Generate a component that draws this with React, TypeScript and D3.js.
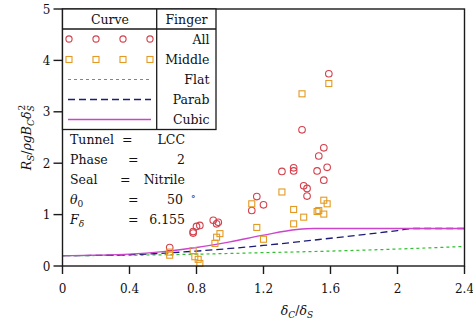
import React from "react";
import * as d3 from "d3";

const allX = [0.64, 0.78, 0.80, 0.82, 0.78, 0.90, 0.93, 0.92, 1.16, 1.20, 1.13, 1.31, 1.38, 1.38, 1.43, 1.59, 1.56, 1.53, 1.52, 1.58, 1.56, 1.44, 1.46, 1.46];
const allY = [0.36, 0.67, 0.77, 0.79, 0.64, 0.89, 0.85, 0.82, 1.35, 1.19, 1.08, 1.84, 1.91, 1.85, 2.65, 3.74, 2.30, 2.14, 1.85, 1.92, 1.67, 1.56, 1.51, 1.36];

const midX = [0.64, 0.64, 0.78, 0.79, 0.81, 0.82, 0.91, 0.92, 0.94, 1.13, 1.16, 1.20, 1.31, 1.38, 1.44, 1.38, 1.52, 1.53, 1.56, 1.58, 1.56, 1.43, 1.59];
const midY = [0.27, 0.21, 0.30, 0.18, 0.13, 0.05, 0.44, 0.56, 0.63, 1.21, 0.75, 0.52, 1.44, 1.10, 0.95, 0.82, 1.06, 1.08, 1.28, 1.21, 1.01, 3.35, 3.55];

const flatX = [0, 0.4, 0.8, 1.2, 1.6, 2.0, 2.4];
const flatY = [0.20, 0.21, 0.23, 0.26, 0.29, 0.33, 0.38];

const parabX = [0, 0.4, 0.8, 1.2, 1.6, 2.0, 2.1, 2.4];
const parabY = [0.20, 0.22, 0.29, 0.40, 0.54, 0.69, 0.73, 0.73];

const cubicX = [0, 0.2, 0.4, 0.6, 0.8, 1.0, 1.2, 1.4, 1.5, 2.4];
const cubicY = [0.20, 0.21, 0.23, 0.28, 0.36, 0.47, 0.60, 0.71, 0.73, 0.73];

const xTicks = [0, 0.4, 0.8, 1.2, 1.6, 2, 2.4];
const yTicks = [0, 1, 2, 3, 4, 5];

const W = 473, H = 324;
const FONT = "DejaVu Serif";
const CIRC = "#d4404c";
const SQ = "#e39a22";
const GREEN = "#2fbf2f";
const NAVY = "#1c1c78";
const MAG = "#cc44cc";
const AX = "#1a1a1a";
const TXT = "#111";

export default function App() {
  const x = d3.scaleLinear().domain([0, 2.4]).range([62.5, 464.5]);
  const y = d3.scaleLinear().domain([0, 5]).range([266, 9]);
  const mk = (xs: number[], ys: number[]) =>
    d3.line<number>().x((d) => x(xs[d])).y((d) => y(ys[d])).curve(d3.curveMonotoneX)(xs.map((_, i) => i)) || "";

  const legRows = [43.5, 64, 84, 104, 124];
  const legMarkX = [69, 96, 123, 150];

  return (
    <svg width={W} height={H} style={{ position: "absolute", left: 0, top: 0, background: "#fff" }} fontFamily={FONT}>
      {/* curves */}
      <path d={mk(flatX, flatY)} fill="none" stroke={GREEN} strokeWidth={1.2} strokeDasharray="3,3" />
      <path d={mk(parabX, parabY)} fill="none" stroke={NAVY} strokeWidth={1.3} strokeDasharray="7,4" />
      <path d={mk(cubicX, cubicY)} fill="none" stroke={MAG} strokeWidth={1.3} />

      {/* data */}
      {allX.map((v, i) => (
        <circle key={"c" + i} cx={x(v)} cy={y(allY[i])} r={3.3} fill="none" stroke={CIRC} strokeWidth={1.1} />
      ))}
      {midX.map((v, i) => (
        <rect key={"s" + i} x={x(v) - 3} y={y(midY[i]) - 3} width={6} height={6} fill="none" stroke={SQ} strokeWidth={1.1} />
      ))}

      {/* frame */}
      <rect x={62.5} y={9} width={402} height={257} fill="none" stroke={AX} strokeWidth={1.4} />

      {/* x ticks */}
      {xTicks.map((t) => (
        <g key={"xt" + t}>
          <line x1={x(t)} x2={x(t)} y1={266} y2={274} stroke={AX} strokeWidth={1.4} />
          <text x={x(t)} y={293} fontSize={12} textAnchor="middle" fill={TXT}>{String(t)}</text>
        </g>
      ))}
      {/* y ticks */}
      {yTicks.map((t) => (
        <g key={"yt" + t}>
          <line x1={53.5} x2={62.5} y1={y(t)} y2={y(t)} stroke={AX} strokeWidth={1.4} />
          <text x={50.5} y={y(t) + 4.5} fontSize={12} textAnchor="end" fill={TXT}>{String(t)}</text>
        </g>
      ))}

      {/* axis titles */}
      <text x={297} y={315} fontSize={12.5} textAnchor="middle" fill={TXT}>
        <tspan fontStyle="italic">δ</tspan><tspan fontSize={9} dy={3} fontStyle="italic">C</tspan>
        <tspan dy={-3}>/</tspan><tspan fontStyle="italic">δ</tspan><tspan fontSize={9} dy={3} fontStyle="italic">S</tspan>
      </text>
      <text transform="translate(31,137.5) rotate(-90)" fontSize={12.5} textAnchor="middle" fill={TXT}>
        <tspan fontStyle="italic">R</tspan><tspan fontSize={9} dy={3} fontStyle="italic">S</tspan>
        <tspan dy={-3}>/</tspan><tspan fontStyle="italic">ρgB</tspan><tspan fontSize={9} dy={3} fontStyle="italic">C</tspan>
        <tspan dy={-3} fontStyle="italic">δ</tspan><tspan fontSize={9} dy={3} fontStyle="italic">S</tspan>
        <tspan fontSize={9} dy={-9} dx={-5}>2</tspan>
      </text>

      {/* legend table */}
      <rect x={62.5} y={9} width={153.5} height={120.5} fill="#fff" stroke={AX} strokeWidth={1.3} />
      <line x1={62.5} x2={216} y1={29} y2={29} stroke={AX} strokeWidth={1.3} />
      <line x1={156.7} x2={156.7} y1={9} y2={129.5} stroke={AX} strokeWidth={1.3} />
      <text x={110} y={23.5} fontSize={12.5} textAnchor="middle" fill={TXT}>Curve</text>
      <text x={186.5} y={23.5} fontSize={12.5} textAnchor="middle" fill={TXT}>Finger</text>
      {["All", "Middle", "Flat", "Parab", "Cubic"].map((s, i) => (
        <text key={s} x={209.5} y={legRows[i]} fontSize={12.5} textAnchor="end" fill={TXT}>{s}</text>
      ))}
      {legMarkX.map((mx) => (
        <g key={"lm" + mx}>
          <circle cx={mx} cy={39} r={3.1} fill="none" stroke={CIRC} strokeWidth={1.1} />
          <rect x={mx - 3} y={56.5} width={6} height={6} fill="none" stroke={SQ} strokeWidth={1.1} />
        </g>
      ))}
      <line x1={68} x2={151} y1={79.5} y2={79.5} stroke={GREEN} strokeWidth={1.2} strokeDasharray="3,3" />
      <line x1={68} x2={151} y1={99.5} y2={99.5} stroke={NAVY} strokeWidth={1.3} strokeDasharray="7,4" />
      <line x1={68} x2={151} y1={119.5} y2={119.5} stroke={MAG} strokeWidth={1.3} />

      {/* info text */}
      <g fontSize={12.5} fill={TXT}>
        <text x={70} y={143.5}>Tunnel</text>
        <text x={122} y={143.5}>=</text>
        <text x={185} y={143.5} textAnchor="end">LCC</text>
        <text x={70} y={164}>Phase</text>
        <text x={128} y={164}>=</text>
        <text x={185} y={164} textAnchor="end">2</text>
        <text x={70} y={184}>Seal</text>
        <text x={120} y={184}>=</text>
        <text x={185} y={184} textAnchor="end">Nitrile</text>
        <text x={70} y={204}><tspan fontStyle="italic">θ</tspan><tspan fontSize={9} dy={3}>0</tspan></text>
        <text x={128} y={204}>=</text>
        <text x={183} y={204} textAnchor="end">50</text>
        <text x={191} y={202} fontSize={9}>°</text>
        <text x={70} y={224}><tspan fontStyle="italic">F</tspan><tspan fontSize={9} dy={3} fontStyle="italic">δ</tspan></text>
        <text x={128} y={224}>=</text>
        <text x={185} y={224} textAnchor="end">6.155</text>
      </g>
    </svg>
  );
}
